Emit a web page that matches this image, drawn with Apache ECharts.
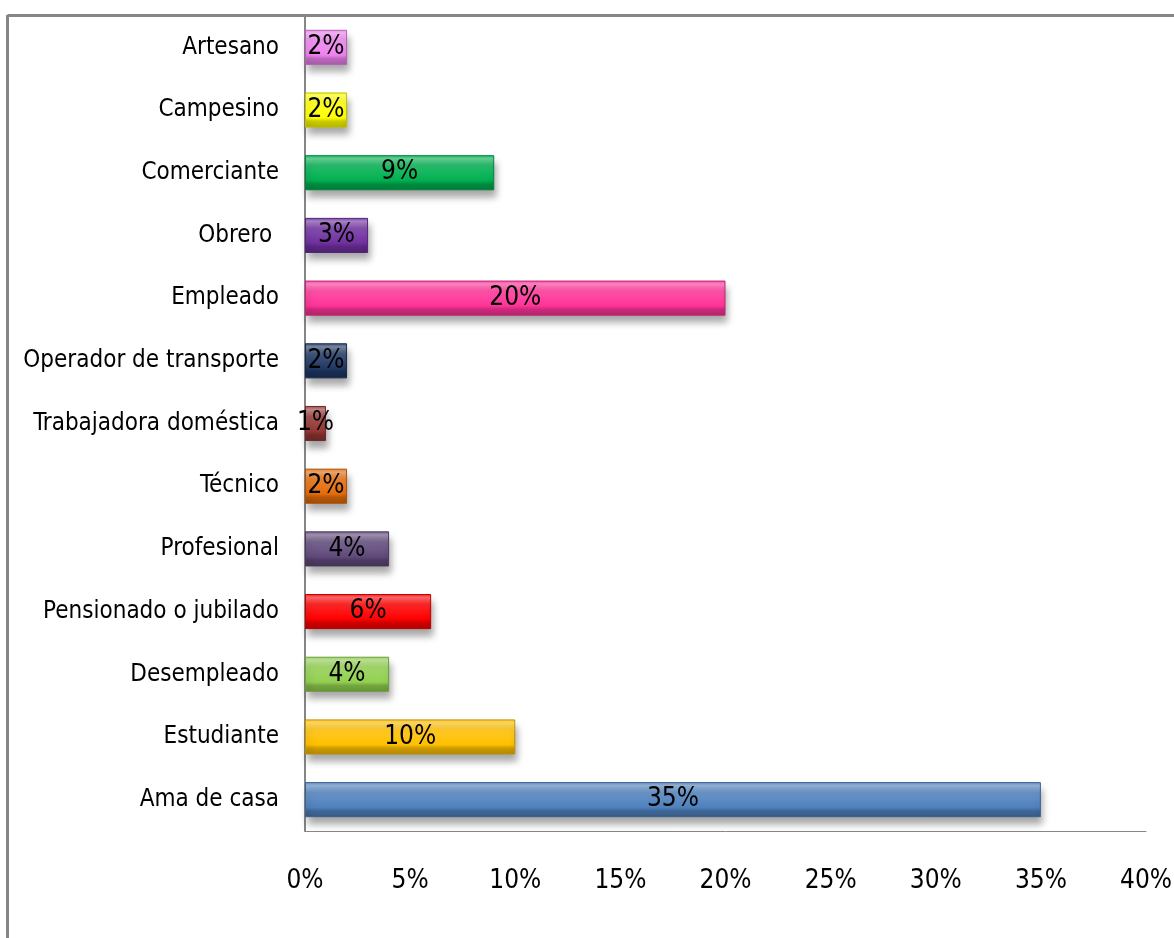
<!DOCTYPE html>
<html>
<head>
<meta charset="utf-8">
<script src="https://cdn.jsdelivr.net/npm/echarts@6/dist/echarts.min.js"></script>
<style>
html,body{margin:0;padding:0;background:#fff;}
#c{width:1174px;height:938px;}
</style>
</head>
<body>
<div id="c"></div>
<script>
// Data (bottom to top as drawn on the category axis)
const categories = ["Ama de casa","Estudiante","Desempleado","Pensionado o jubilado","Profesional","Técnico","Trabajadora doméstica","Operador de transporte","Empleado","Obrero ","Comerciante","Campesino","Artesano"];
const values = [35,10,4,6,4,2,1,2,20,3,9,2,2];
const barColors = ["#4F81BD","#FFC000","#92D050","#FF0000","#604A7B","#E46C0A","#953735","#1F3864","#FF3399","#7030A0","#00B050","#FFFF00","#EE82EE"];
const xTicks = [0,5,10,15,20,25,30,35,40];

const FONT = "'DejaVu Sans Condensed','Liberation Sans Narrow','Liberation Sans',sans-serif";

function shade(hex, f){
  const n = parseInt(hex.slice(1),16);
  let r=(n>>16)&255,g=(n>>8)&255,b=n&255;
  if(f>=0){r=r+(255-r)*f;g=g+(255-g)*f;b=b+(255-b)*f;}
  else{r=r*(1+f);g=g*(1+f);b=b*(1+f);}
  return 'rgb('+Math.round(r)+','+Math.round(g)+','+Math.round(b)+')';
}

const data = values.map((v,i)=>({
  value:v,
  itemStyle:{
    color:{type:'linear',x:0,y:0,x2:0,y2:1,colorStops:[
      {offset:0,color:shade(barColors[i],0.1)},
      {offset:0.1,color:shade(barColors[i],0.4)},
      {offset:0.3,color:shade(barColors[i],0.15)},
      {offset:0.72,color:barColors[i]},
      {offset:0.82,color:shade(barColors[i],-0.2)},
      {offset:1,color:shade(barColors[i],-0.3)}
    ]},
    borderColor:shade(barColors[i],-0.25),
    borderWidth:1,
    shadowColor:'rgba(0,0,0,0.35)',
    shadowBlur:7,
    shadowOffsetY:7,
    shadowOffsetX:2
  }
}));

const chart = echarts.init(document.getElementById('c'));
chart.setOption({
  animation:false,
  backgroundColor:'#ffffff',
  graphic:[
    {type:'line',shape:{x1:7.5,y1:15.5,x2:1174,y2:15.5},style:{stroke:'#868686',lineWidth:3}},
    {type:'line',shape:{x1:7.5,y1:15,x2:7.5,y2:938},style:{stroke:'#868686',lineWidth:3}}
  ],
  grid:{left:305,right:28,top:16,bottom:107,containLabel:false,outerBoundsMode:'none'},
  xAxis:{
    type:'value',min:0,max:40,interval:5,
    axisLine:{show:true,lineStyle:{color:'#868686',width:1}},
    axisTick:{show:false},
    splitLine:{show:false},
    axisLabel:{
      margin:37,color:'#000',fontSize:26,fontFamily:FONT,
      formatter:function(v){return xTicks.indexOf(v)>=0 ? v+'%' : '';}
    }
  },
  yAxis:{
    type:'category',data:categories,
    axisLine:{show:true,lineStyle:{color:'#868686',width:2}},
    axisTick:{show:false},
    axisLabel:{margin:26,color:'#000',fontSize:24,fontFamily:FONT}
  },
  series:[{
    type:'bar',
    data:data,
    barCategoryGap:'44%',
    label:{show:true,position:'inside',color:'#000',fontSize:26,fontFamily:FONT,
      formatter:function(p){return p.value+'%';}}
  }]
});
</script>
</body>
</html>
